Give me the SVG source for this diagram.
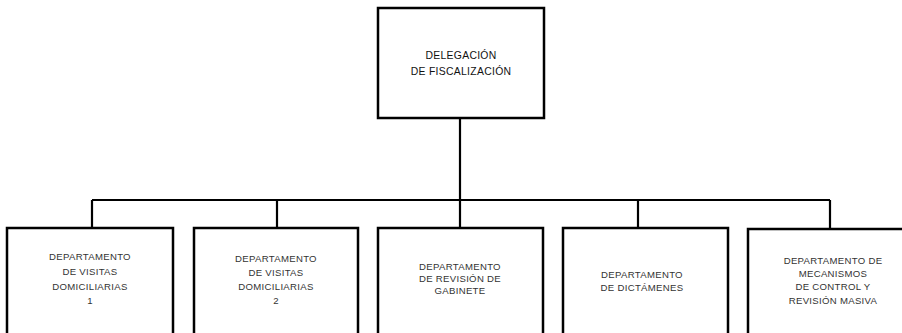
<svg xmlns="http://www.w3.org/2000/svg" width="902" height="333" viewBox="0 0 902 333">
<style>
.box{fill:#fff;stroke:#000;stroke-width:2.5}
.ln{fill:none;stroke:#000;stroke-width:2.2}
text{font-family:"Liberation Sans",Arial,sans-serif;font-size:9.6px;fill:#333;text-anchor:middle;letter-spacing:0.3px}
.top{font-size:10.4px;fill:#111}
</style>
<rect width="902" height="333" fill="#fff"/>
<g id="connectors">
<path class="ln" d="M460,118 V200 M92,200 H830 M92,200 V228 M277,200 V228 M460,200 V228 M638,200 V228 M830,200 V229"/>
</g>
<g id="delegacion">
<rect class="box" x="378" y="8" width="166" height="110"/>
<text class="top" x="461" y="59">DELEGACIÓN</text>
<text class="top" x="461" y="75">DE FISCALIZACIÓN</text>
</g>
<g id="dep1">
<rect class="box" x="7" y="228" width="166" height="120"/>
<text x="90" y="260">DEPARTAMENTO</text>
<text x="90" y="275">DE VISITAS</text>
<text x="90" y="290">DOMICILIARIAS</text>
<text x="90" y="304">1</text>
</g>
<g id="dep2">
<rect class="box" x="194" y="228" width="164" height="120"/>
<text x="276" y="262">DEPARTAMENTO</text>
<text x="276" y="276">DE VISITAS</text>
<text x="276" y="290">DOMICILIARIAS</text>
<text x="276" y="304">2</text>
</g>
<g id="dep3">
<rect class="box" x="378" y="228" width="165" height="120"/>
<text x="460" y="270">DEPARTAMENTO</text>
<text x="460" y="282">DE REVISIÓN DE</text>
<text x="460" y="294">GABINETE</text>
</g>
<g id="dep4">
<rect class="box" x="563" y="228" width="165" height="120"/>
<text x="642" y="278">DEPARTAMENTO</text>
<text x="642" y="291">DE DICTÁMENES</text>
</g>
<g id="dep5">
<rect class="box" x="748" y="229" width="175" height="120"/>
<text x="833" y="264">DEPARTAMENTO DE</text>
<text x="833" y="277">MECANISMOS</text>
<text x="833" y="290">DE CONTROL Y</text>
<text x="833" y="304">REVISIÓN MASIVA</text>
</g>
</svg>
